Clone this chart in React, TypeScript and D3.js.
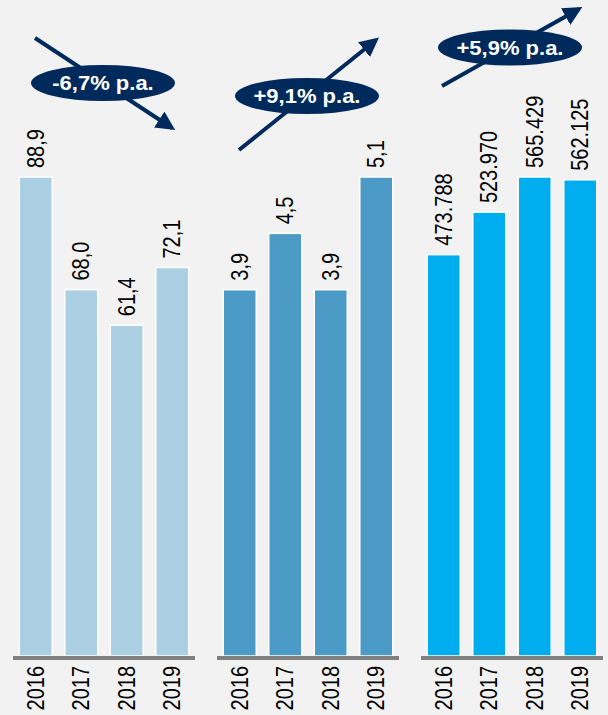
import React from 'react'
import * as d3 from 'd3'

const years = ['2016', '2017', '2018', '2019']
const seriesA = [88.9, 68.0, 61.4, 72.1]
const seriesB = [3.9, 4.5, 3.9, 5.1]
const seriesC = [473788, 523970, 565429, 562125]
const growthLabels = ['-6,7% p.a.', '+9,1% p.a.', '+5,9% p.a.']

const deLocale = d3.formatLocale({ decimal: ',', thousands: '.', grouping: [3], currency: ['', ' €'] })

const width = 608
const height = 715
const baseline = 656
const barTop = 177
const panelWidth = 182
const panelStarts = [13, 217, 421]

const panels = [
  { values: seriesA, color: '#abcfe3', fmt: deLocale.format('.1f') },
  { values: seriesB, color: '#4b9bc6', fmt: deLocale.format('.1f') },
  { values: seriesC, color: '#00aeef', fmt: deLocale.format(',.0f') }
]

// arrow / bubble placement per panel, relative to panel left edge
const annotations = [
  { from: [22, 38], to: [159, 128], cx: 90, cy: 83 },
  { from: [22, 150], to: [159, 40], cx: 90, cy: 96 },
  { from: [21, 86], to: [158, 9], cx: 89, cy: 47.5 }
]

const navy = '#002a5c'
const font = "'Liberation Sans', Arial, sans-serif"

export default function App() {
  return (
    <div style={{ position: 'fixed', left: 0, top: 0 }}>
      <svg width={width} height={height} style={{ display: 'block', background: '#f2f2f2' }}>
        <defs>
          <marker id="head" viewBox="0 0 10 10" refX="8" refY="5" markerWidth="4.8" markerHeight="4.8" orient="auto" markerUnits="strokeWidth">
            <path d="M0,0 L10,5 L0,10 z" fill={navy} />
          </marker>
        </defs>
        {panels.map((p, i) => {
          const x0 = panelStarts[i]
          const x = d3.scaleBand().domain(years).range([x0, x0 + panelWidth]).paddingInner(0.275).paddingOuter(0.1375)
          const y = d3.scaleLinear().domain([0, d3.max(p.values) ?? 0]).range([baseline, barTop])
          const a = annotations[i]
          return (
            <g key={i}>
              {years.map((yr, j) => (
                <rect
                  key={yr}
                  x={x(yr)}
                  y={y(p.values[j])}
                  width={x.bandwidth()}
                  height={baseline - y(p.values[j])}
                  fill={p.color}
                  stroke="#ffffff"
                  strokeWidth={1.5}
                />
              ))}
              {years.map((yr, j) => {
                const cx = (x(yr) ?? 0) + x.bandwidth() / 2
                const ty = y(p.values[j]) - 9
                return (
                  <text
                    key={'v' + yr}
                    transform={`translate(${cx},${ty}) rotate(-90) scale(1,1.15)`}
                    dominantBaseline="central"
                    fontFamily={font}
                    fontSize={20}
                    fill="#000"
                  >
                    {p.fmt(p.values[j])}
                  </text>
                )
              })}
              <line x1={x0} x2={x0 + panelWidth} y1={baseline + 2} y2={baseline + 2} stroke="#808080" strokeWidth={4} />
              {years.map((yr) => {
                const cx = (x(yr) ?? 0) + x.bandwidth() / 2
                return (
                  <text
                    key={'y' + yr}
                    transform={`translate(${cx},${baseline + 10}) rotate(-90) scale(1,1.15)`}
                    textAnchor="end"
                    dominantBaseline="central"
                    fontFamily={font}
                    fontSize={20}
                    fill="#000"
                  >
                    {yr}
                  </text>
                )
              })}
              <line
                x1={x0 + a.from[0]}
                y1={a.from[1]}
                x2={x0 + a.to[0]}
                y2={a.to[1]}
                stroke={navy}
                strokeWidth={4}
                markerEnd="url(#head)"
              />
              <ellipse cx={x0 + a.cx} cy={a.cy} rx={72} ry={18} fill={navy} />
              <text
                transform={`translate(${x0 + a.cx},${a.cy}) scale(1.1,1)`}
                textAnchor="middle"
                dominantBaseline="central"
                fontFamily={font}
                fontWeight="bold"
                fontSize={20}
                fill="#ffffff"
              >
                {growthLabels[i]}
              </text>
            </g>
          )
        })}
      </svg>
    </div>
  )
}
